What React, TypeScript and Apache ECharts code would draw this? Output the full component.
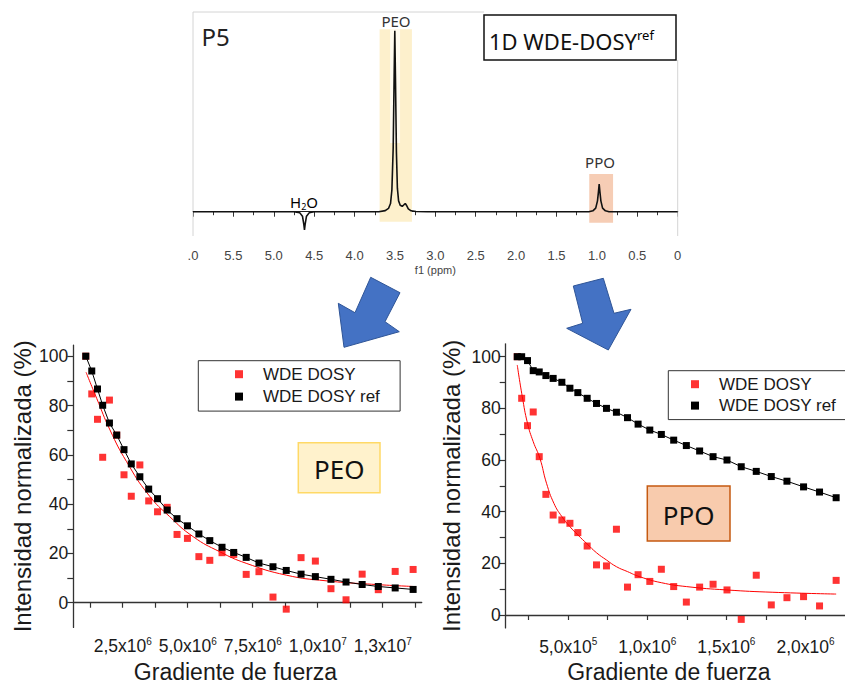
import React, { useEffect, useRef } from 'react';
import * as echarts from 'echarts';

// ---------- 1H spectrum (ppm, relative intensity) ----------
const spectrumPpm = [6.0, 4.75, 4.68, 4.645, 4.628, 4.62, 4.612, 4.595, 4.56, 4.5, 3.7, 3.62, 3.58, 3.555, 3.538, 3.522, 3.51, 3.502, 3.494, 3.482, 3.47, 3.455, 3.435, 3.41, 3.385, 3.372, 3.358, 3.335, 3.3, 3.24, 3.1, 1.1, 1.05, 1.015, 0.993, 0.981, 0.972, 0.963, 0.951, 0.93, 0.895, 0.85, 0.0];
const spectrumIntensity = [0, 0, -0.5, -2.5, -7, -10.1, -7, -2.5, -0.5, 0, 0, 0.6, 1.8, 4.5, 12, 35, 75, 100, 75, 33, 13, 6, 3.6, 3.0, 4.0, 4.5, 3.6, 1.6, 0.5, 0.1, 0, 0, 0.5, 2, 6, 11, 15.3, 11, 6, 2, 0.5, 0, 0];
const spectrumTickLabels = [6.0, 5.5, 5.0, 4.5, 4.0, 3.5, 3.0, 2.5, 2.0, 1.5, 1.0, 0.5, 0];

// ---------- PEO decay ----------
const peoGradient = [1.08e6, 1.31e6, 1.53e6, 1.73e6, 1.99e6, 2.27e6, 2.55e6, 2.83e6, 3.16e6, 3.5e6, 3.84e6, 4.21e6, 4.59e6, 4.99e6, 5.43e6, 5.85e6, 6.32e6, 6.77e6, 7.25e6, 7.74e6, 8.28e6, 8.79e6, 9.36e6, 9.91e6, 10.51e6, 11.09e6, 11.71e6, 12.33e6, 12.98e6, 13.67e6];
const peoWde = [100, 84.7, 74.4, 59.0, 82.2, 68, 51.9, 43.2, 55.9, 41.3, 36.9, 38.7, 27.7, 26.1, 18.7, 17.2, 20.3, 19.6, 11.5, 12.6, 2.3, -2.6, 18.3, 16.9, 5.7, 1.2, 11.6, 5.3, 12.7, 13.5];
const peoWdeRef = [100, 94.0, 86.7, 80.1, 72.9, 68.0, 62.1, 56.3, 51.1, 46.1, 42.2, 37.6, 34.1, 31.2, 27.9, 25.2, 22.5, 20.4, 18.4, 16.1, 14.6, 13.1, 11.6, 10.6, 9.5, 8.4, 7.4, 6.6, 6.0, 5.4];
const peoFitX = [1.09e6, 1.5e6, 2.01e6, 2.65e6, 3.5e6, 4.31e6, 5.21e6, 6.23e6, 7.25e6, 8.79e6, 10.32e6, 12.24e6, 13.67e6];
const peoFitY = [93.5, 82.9, 70.1, 57.2, 43.7, 34.9, 26.8, 20.7, 16.0, 11.2, 8.9, 7.4, 6.6];
const peoXTicks = [1.25e6, 2.5e6, 3.75e6, 5e6, 6.25e6, 7.5e6, 8.75e6, 1e7, 1.125e7, 1.25e7, 1.375e7];
const peoXLabels = [2.5e6, 5e6, 7.5e6, 1e7, 1.25e7];

// ---------- PPO decay ----------
const ppoGradient = [1.78e5, 2.06e5, 2.43e5, 2.79e5, 3.17e5, 3.59e5, 4.05e5, 4.6e5, 5.11e5, 5.61e5, 6.2e5, 6.79e5, 7.42e5, 8.05e5, 8.75e5, 9.42e5, 1.016e6, 1.089e6, 1.167e6, 1.247e6, 1.331e6, 1.416e6, 1.504e6, 1.594e6, 1.689e6, 1.784e6, 1.883e6, 1.988e6, 2.089e6, 2.194e6];
const ppoWde = [100, 83.9, 73.3, 78.6, 61.3, 46.7, 38.7, 36.8, 35.5, 31.9, 26.7, 19.4, 19.0, 33.2, 10.8, 15.6, 13.0, 17.7, 11.0, 5.0, 10.8, 11.9, 9.7, -1.7, 15.4, 3.9, 6.7, 7.1, 3.5, 13.4];
const ppoWdeRef = [100, 100, 98.5, 94.6, 94.1, 92.7, 91.6, 90.1, 87.8, 86.1, 83.9, 81.9, 80.0, 78.5, 76.4, 73.9, 71.6, 69.9, 67.7, 65.6, 63.5, 61.3, 60.0, 57.4, 55.6, 53.6, 51.8, 49.6, 47.6, 45.4];
const ppoFitX = [1.78e5, 2.1e5, 2.43e5, 2.79e5, 3.21e5, 3.63e5, 4.1e5, 4.6e5, 5.11e5, 5.61e5, 6.2e5, 6.79e5, 7.42e5, 8.05e5, 8.75e5, 9.53e5, 1.089e6, 1.247e6, 1.5e6, 1.794e6, 2.194e6];
const ppoFitY = [96.8, 84.5, 74.2, 67.1, 60.7, 51.0, 43.2, 38.1, 34.2, 31.0, 27.5, 24.1, 21.3, 18.7, 16.8, 14.8, 12.5, 11.0, 9.7, 8.8, 8.1];
const ppoXTicks = [2.5e5, 5e5, 7.5e5, 1e6, 1.25e6, 1.5e6, 1.75e6, 2e6];
const ppoXLabels = [5e5, 1e6, 1.5e6, 2e6];

const yTicks = [0, 10, 20, 30, 40, 50, 60, 70, 80, 90, 100];
const yLabels = [0, 20, 40, 60, 80, 100];

const legendNames = ['WDE DOSY', 'WDE DOSY ref'];

const zip = (a: number[], b: number[]) => a.map((v, i) => [v, b[i]]);

const ARIAL = '"Liberation Sans", Arial, sans-serif';
const CAL = '"Noto Sans", "Open Sans", sans-serif';

function sciLabel(v: number) {
  if (v <= 0) return '';
  const e = Math.floor(Math.log10(v) + 1e-9);
  const m = (v / Math.pow(10, e)).toFixed(1).replace('.', ',');
  return `{m|${m}x10}{s|${e}}`;
}

const sciRich = {
  m: { fontSize: 17.5, color: '#1a1a1a', fontFamily: ARIAL, lineHeight: 20 },
  s: { fontSize: 10, color: '#1a1a1a', fontFamily: ARIAL, verticalAlign: 'top', lineHeight: 10 },
};

function decayAxes(grid: number, xmin: number, xmax: number, xt: number[], xl: number[], ymin: number, ymax: number, yNameGap: number, xNamePad: number) {
  const axisLine = { show: true, lineStyle: { color: '#333', width: 1.3 } };
  const x = {
    gridIndex: grid, type: 'value', min: xmin, max: xmax,
    axisLine, splitLine: { show: false },
    axisTick: { show: true, customValues: xt, length: 5, lineStyle: { color: '#333', width: 1.2 } },
    axisLabel: { customValues: xl, formatter: sciLabel, rich: sciRich, margin: 9 },
    name: 'Gradiente de fuerza', nameLocation: 'middle', nameGap: 33,
    nameTextStyle: { fontSize: 23, color: '#1a1a1a', fontFamily: ARIAL, padding: [0, xNamePad, 0, 0] },
  };
  const y = {
    gridIndex: grid, type: 'value', min: ymin, max: ymax,
    axisLine, splitLine: { show: false },
    axisTick: { show: true, customValues: yTicks, length: 6, lineStyle: { color: '#333', width: 1.2 } },
    axisLabel: { customValues: yLabels, fontSize: 17.5, color: '#1a1a1a', fontFamily: ARIAL, margin: 5 },
    name: 'Intensidad normalizada (%)', nameLocation: 'middle', nameGap: yNameGap,
    nameTextStyle: { fontSize: 24, color: '#1a1a1a', fontFamily: ARIAL },
  };
  return { x, y };
}

function decaySeries(axis: number, grad: number[], wde: number[], ref: number[], fx: number[], fy: number[]) {
  return [
    { type: 'line', name: 'fit' + axis, xAxisIndex: axis, yAxisIndex: axis, data: zip(fx, fy), smooth: true, showSymbol: false, lineStyle: { color: '#ff0000', width: 1 }, z: 2 },
    { type: 'scatter', name: 'WDE DOSY', xAxisIndex: axis, yAxisIndex: axis, data: zip(grad, wde), symbol: 'rect', symbolSize: 7, itemStyle: { color: '#ff0000' }, z: 3 },
    { type: 'line', name: 'WDE DOSY ref', xAxisIndex: axis, yAxisIndex: axis, data: zip(grad, ref), symbol: 'rect', symbolSize: 7, showSymbol: true, itemStyle: { color: '#000' }, lineStyle: { color: '#000', width: 1 }, z: 4 },
  ];
}

function legend(left: number, top: number, pad: number[], gap: number) {
  return {
    orient: 'vertical', left, top, padding: pad, itemGap: gap,
    itemWidth: 8, itemHeight: 8, icon: 'rect', selectedMode: false,
    borderColor: '#333', borderWidth: 1, backgroundColor: '#fff',
    data: legendNames,
    textStyle: { fontSize: 17, color: '#1a1a1a', fontFamily: ARIAL, padding: [0, 0, 0, 15] },
  };
}

function arrow(points: number[][]) {
  return { type: 'polygon', z: 100, shape: { points }, style: { fill: '#4472C4', stroke: '#2F5597', lineWidth: 1 } };
}

export default function App() {
  const ref = useRef<HTMLDivElement>(null);
  useEffect(() => {
    if (!ref.current) return;
    const chart = echarts.init(ref.current, undefined, { renderer: 'svg' });
    const left = decayAxes(1, 0.6e6, 14e6, peoXTicks, peoXLabels, -10, 104.5, 39, 24);
    const right = decayAxes(2, 1.05e5, 2.25e6, ppoXTicks, ppoXLabels, -5, 105, 42, 13);
    const option = {
      animation: false,
      backgroundColor: '#fff',
      textStyle: { fontFamily: ARIAL },
      grid: [
        { left: 193, top: 12, width: 484.7, height: 224.7 },
        { left: 73.3, top: 345.1, width: 348.4, height: 282.3 },
        { left: 505.7, top: 343.8, width: 339.8, height: 284.1 },
      ],
      xAxis: [
        {
          gridIndex: 0, type: 'value', min: 0, max: 6, interval: 0.5, inverse: true,
          axisLine: { lineStyle: { color: '#222', width: 1.2 } },
          axisTick: { length: 5, lineStyle: { color: '#333' } },
          minorTick: { show: true, splitNumber: 2, length: 3.5, lineStyle: { color: '#333' } },
          splitLine: { show: false },
          axisLabel: {
            customValues: spectrumTickLabels, fontSize: 13, color: '#444', margin: 12, fontFamily: ARIAL,
            formatter: (v: number) => (v === 0 ? '0' : v === 6 ? '.0' : v.toFixed(1)),
          },
          name: 'f1 (ppm)', nameLocation: 'middle', nameGap: 28,
          nameTextStyle: { fontSize: 11, color: '#444', fontFamily: ARIAL },
        },
        left.x, right.x,
      ],
      yAxis: [
        { gridIndex: 0, type: 'value', min: -13.8, max: 110.3, show: false },
        left.y, right.y,
      ],
      legend: [
        legend(198.3, 360.7, [5, 20, 6, 36.7], 5.4),
        legend(668.3, 370.7, [5, 20, 5.5, 22.7], 4.4),
      ],
      series: [
        {
          type: 'line', name: 'spectrum', xAxisIndex: 0, yAxisIndex: 0,
          data: zip(spectrumPpm, spectrumIntensity), showSymbol: false,
          lineStyle: { color: '#111', width: 1.6 }, z: 5,
          markArea: {
            silent: true,
            data: [
              [{ xAxis: 3.69, yAxis: -5.5, itemStyle: { color: '#FDF0CC' } }, { xAxis: 3.29, yAxis: 100.8 }],
              [{ xAxis: 3.56, yAxis: 38, itemStyle: { color: '#FFFBF0' } }, { xAxis: 3.437, yAxis: 100.8 }],
              [{ xAxis: 1.095, yAxis: -6.1, itemStyle: { color: '#F6CDB5' } }, { xAxis: 0.8, yAxis: 20.8 }],
            ],
          },
        },
        ...decaySeries(1, peoGradient, peoWde, peoWdeRef, peoFitX, peoFitY),
        ...decaySeries(2, ppoGradient, ppoWde, ppoWdeRef, ppoFitX, ppoFitY),
      ],
      graphic: [
        { type: 'line', z: 1, shape: { x1: 193, y1: 12, x2: 193, y2: 236 }, style: { stroke: '#d4d4d4', lineWidth: 1 } },
        { type: 'line', z: 1, shape: { x1: 193, y1: 12, x2: 484, y2: 12 }, style: { stroke: '#d4d4d4', lineWidth: 1 } },
        { type: 'line', z: 1, shape: { x1: 677.7, y1: 60, x2: 677.7, y2: 236 }, style: { stroke: '#d4d4d4', lineWidth: 1 } },
        { type: 'text', z: 100, x: 201.5, y: 36.5, style: { text: 'P5', font: `24px ${CAL}`, fill: '#222', verticalAlign: 'middle' } },
        { type: 'rect', z: 100, shape: { x: 484, y: 15, width: 192, height: 45 }, style: { fill: '#fff', stroke: '#111', lineWidth: 1.5 } },
        {
          type: 'text', z: 101, x: 489, y: 41,
          style: {
            text: '{a|1D WDE-DOSY}{b|ref}', verticalAlign: 'middle',
            rich: { a: { fontSize: 22, fontFamily: CAL, fill: '#111', color: '#111', lineHeight: 26 }, b: { fontSize: 13, fontFamily: CAL, color: '#111', verticalAlign: 'top', lineHeight: 13 } },
          },
        },
        { type: 'text', z: 100, x: 396, y: 21, style: { text: 'PEO', font: `15px ${CAL}`, fill: '#333', align: 'center', verticalAlign: 'middle' } },
        { type: 'text', z: 100, x: 600, y: 162, style: { text: 'PPO', font: `15px ${CAL}`, fill: '#333', align: 'center', verticalAlign: 'middle' } },
        {
          type: 'text', z: 100, x: 304, y: 202,
          style: {
            text: '{a|H}{b|2}{a|O}', align: 'center', verticalAlign: 'middle',
            rich: { a: { fontSize: 15, fontFamily: CAL, color: '#333', lineHeight: 18 }, b: { fontSize: 9, fontFamily: CAL, color: '#333', verticalAlign: 'bottom', lineHeight: 9 } },
          },
        },
        arrow([[370.7, 277.3], [400, 292.7], [385, 321.7], [399.3, 331.7], [344, 347.3], [338.3, 303.3], [355, 312.7]]),
        arrow([[573.3, 286], [603.3, 278.3], [614, 313.3], [631, 309.3], [608.3, 350], [566.7, 328.3], [582.7, 323.3]]),
        { type: 'rect', z: 100, shape: { x: 298.3, y: 442.7, width: 81.7, height: 50 }, style: { fill: '#FFF2CC', stroke: '#FFD966', lineWidth: 1.5 } },
        { type: 'text', z: 101, x: 339.2, y: 468.5, style: { text: 'PEO', font: `26px ${CAL}`, fill: '#111', align: 'center', verticalAlign: 'middle' } },
        { type: 'rect', z: 100, shape: { x: 647.3, y: 486, width: 82.7, height: 55 }, style: { fill: '#F8CBAD', stroke: '#C55A11', lineWidth: 1.5 } },
        { type: 'text', z: 101, x: 688.7, y: 514.5, style: { text: 'PPO', font: `26px ${CAL}`, fill: '#111', align: 'center', verticalAlign: 'middle' } },
      ],
    };
    chart.setOption(option as any);
    return () => chart.dispose();
  }, []);
  return <div ref={ref} style={{ position: 'fixed', left: 0, top: 0, width: 845, height: 688, background: '#fff' }} />;
}
